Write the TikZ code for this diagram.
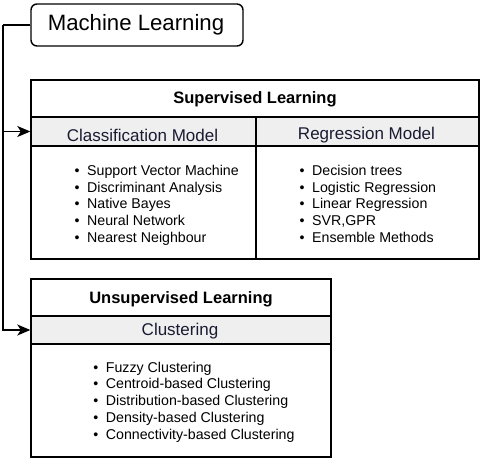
\documentclass[tikz,border=0pt]{standalone}
\usepackage{fontspec}
\setmainfont{Liberation Sans}
\usetikzlibrary{arrows.meta}
\definecolor{subfill}{HTML}{EFEFEF}
\definecolor{subtext}{HTML}{1A1A33}
\tikzset{
  box/.style={draw=black, line width=1.4pt, rectangle, inner sep=0pt},
  mlbox/.style={box, rounded corners=6pt, font=\fontsize{22.2}{26}\selectfont},
  headbox/.style={box, font=\bfseries\fontsize{16.5}{20}\selectfont},
  subbox/.style={box, fill=subfill, text=subtext, font=\fontsize{17}{20}\selectfont},
  bodybox/.style={box},
  list/.style={anchor=west, inner sep=0pt, align=left, font=\fontsize{14.2}{16.7}\selectfont},
  conn/.style={draw=black, line width=1.4pt, -{Stealth[length=13pt,width=11pt,inset=3.5pt]}},
  plain/.style={draw=black, line width=1.4pt}
}
\newcommand{\bitem}[1]{\makebox[12.5pt][l]{\textbullet}#1}
\begin{document}
\begin{tikzpicture}[x=1pt,y=-1pt]
\useasboundingbox (0,0) rectangle (482,460);
% Machine learning
\node[mlbox, minimum width=212pt, minimum height=42pt] (ml) at (137,25) {};
\node[font=\fontsize{22.2}{26}\selectfont, inner sep=0pt] (mltext) at (136,25) {Machine Learning};
% Supervised
\node[headbox, minimum width=448pt, minimum height=37pt] (suphead) at (255,98.5) {};
\node[font=\bfseries\fontsize{16.5}{20}\selectfont, inner sep=0pt] (suptext) at (255,99.5) {Supervised Learning};
\node[subbox, minimum width=225pt, minimum height=29pt] (class) at (143.5,131.5) {};
\node[font=\fontsize{17}{20}\selectfont, text=subtext, inner sep=0pt] (classtext) at (142.5,135) {Classification Model};
\node[subbox, minimum width=223pt, minimum height=29pt] (regr) at (367.5,131.5) {};
\node[font=\fontsize{17}{20}\selectfont, text=subtext, inner sep=0pt] (regrtext) at (366.5,135) {Regression Model};
\node[bodybox, minimum width=225pt, minimum height=113pt] (classbody) at (143.5,202.5) {};
\node[bodybox, minimum width=223pt, minimum height=113pt] (regrbody) at (367.5,202.5) {};
\node[list] (classlist) at (74.5,205.3) {\bitem{Support Vector Machine}\\ \bitem{Discriminant Analysis}\\ \bitem{Native Bayes}\\ \bitem{Neural Network}\\ \bitem{Nearest Neighbour}};
\node[list] (regrlist) at (299.5,203.8) {\bitem{Decision trees}\\ \bitem{Logistic Regression}\\ \bitem{Linear Regression}\\ \bitem{SVR,GPR}\\ \bitem{Ensemble Methods}};
% Unsupervised
\node[headbox, minimum width=300pt, minimum height=37pt] (unshead) at (181,297.5) {};
\node[font=\bfseries\fontsize{16.5}{20}\selectfont, inner sep=0pt] (unstext) at (181,299.5) {Unsupervised Learning};
\node[subbox, minimum width=300pt, minimum height=28pt] (clust) at (181,330) {};
\node[font=\fontsize{17}{20}\selectfont, text=subtext, inner sep=0pt] (clusttext) at (180,331) {Clustering};
\node[bodybox, minimum width=300pt, minimum height=113pt] (clustbody) at (181,400.5) {};
\node[list] (clustlist) at (93.2,402) {\bitem{Fuzzy Clustering}\\ \bitem{Centroid-based Clustering}\\ \bitem{Distribution-based Clustering}\\ \bitem{Density-based Clustering}\\ \bitem{Connectivity-based Clustering}};
% connectors
\coordinate (trunk) at (3,25);
\draw[plain] (ml.west) -- (trunk);
\draw[conn] (trunk) |- (class.west);
\draw[conn] (trunk) |- (clust.west);
\end{tikzpicture}
\end{document}
